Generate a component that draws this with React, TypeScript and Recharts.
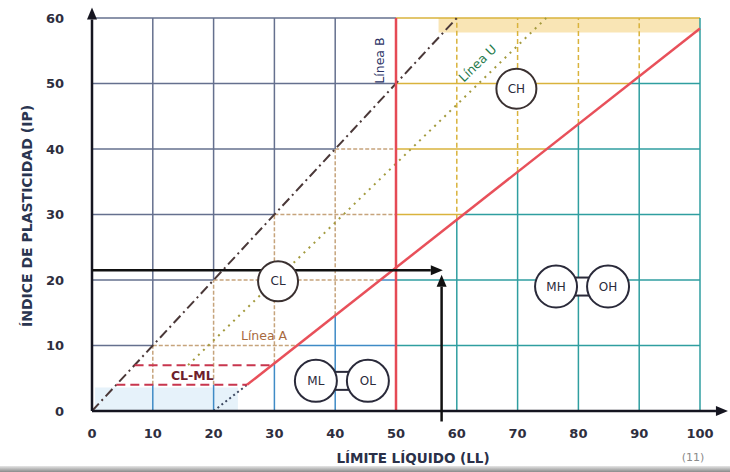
import React from "react";
import {
  ComposedChart,
  XAxis,
  YAxis,
  Line,
  ReferenceLine,
  ReferenceDot,
  ReferenceArea,
} from "recharts";

const LL_TICKS = [0, 10, 20, 30, 40, 50, 60, 70, 80, 90, 100];
const IP_TICKS = [0, 10, 20, 30, 40, 50, 60];
const GRID_LL = [10, 20, 30, 40, 60, 70, 80, 90, 100];
const GRID_IP = [10, 20, 30, 40, 50, 60];

// lineas de la carta (LL, IP)
const lineA = [
  { ll: 25.5, ip: 4 },
  { ll: 100, ip: 58.4 },
];
const lineAFoot = [
  { ll: 20, ip: 0 },
  { ll: 25.5, ip: 4 },
];
const lineU = [
  { ll: 15.8, ip: 7 },
  { ll: 74.7, ip: 60 },
];
const lineB = [
  { ll: 50, ip: 0 },
  { ll: 50, ip: 60 },
];
const lineDiag = [
  { ll: 0, ip: 0 },
  { ll: 60, ip: 60 },
];
const clmlUpper = [
  { ll: 7, ip: 7 },
  { ll: 29.6, ip: 7 },
];
const clmlLower = [
  { ll: 4, ip: 4 },
  { ll: 25.5, ip: 4 },
];

// lectura del ejemplo
const readIP = { from: { ll: 0, ip: 21.5 }, to: { ll: 57.7, ip: 21.5 } };
const readLL = { from: { ll: 57.5, ip: -1.6 }, to: { ll: 57.5, ip: 20.8 } };

const soilCircles = [
  { name: "CL", ll: 30.6, ip: 19.8 },
  { name: "CH", ll: 69.8, ip: 49.2 },
];
const soilPairs = [
  { left: "ML", right: "OL", ll: 41.1, ip: 4.6 },
  { left: "MH", right: "OH", ll: 80.6, ip: 19 },
];
const lineNotes = [
  { text: "Línea B", ll: 47.5, ip: 53.5, angle: -90, color: "#2c3466", bold: false },
  { text: "Línea U", ll: 63.5, ip: 53, angle: -44, color: "#1f7a4a", bold: false },
  { text: "Línea A", ll: 28.3, ip: 11.4, angle: 0, color: "#a86a3e", bold: false },
  { text: "CL-ML", ll: 16.5, ip: 5.2, angle: 0, color: "#6e1f2c", bold: true },
];

const SLATE = "#65708e";
const BROWN = "#c6a47c";
const BLUE = "#3f8bc6";
const GOLD = "#d9b33c";
const TEAL = "#2f9ea0";
const FONT = "DejaVu Sans";

const aLine = (ll: number) => 0.73 * (ll - 20);
const aLineInv = (ip: number) => ip / 0.73 + 20;

type Seg = { pts: { ll: number; ip: number }[]; color: string; dash?: string };

const gridSegments: Seg[] = [];
GRID_IP.forEach((v) => {
  const xa = aLineInv(v);
  gridSegments.push({ pts: [{ ll: 0, ip: v }, { ll: Math.min(v, 50), ip: v }], color: SLATE });
  if (v < 50) {
    gridSegments.push({ pts: [{ ll: v, ip: v }, { ll: Math.min(xa, 50), ip: v }], color: BROWN, dash: "4 2" });
    if (xa < 50) gridSegments.push({ pts: [{ ll: xa, ip: v }, { ll: 50, ip: v }], color: BLUE });
  }
  if (xa > 50) gridSegments.push({ pts: [{ ll: 50, ip: v }, { ll: Math.min(xa, 100), ip: v }], color: GOLD });
  if (xa < 100) gridSegments.push({ pts: [{ ll: Math.max(xa, 50), ip: v }, { ll: 100, ip: v }], color: TEAL });
});
GRID_LL.forEach((u) => {
  const a = Math.max(aLine(u), 0);
  if (u < 50) {
    const low = Math.max(a, 4);
    gridSegments.push({ pts: [{ ll: u, ip: u }, { ll: u, ip: 60 }], color: SLATE });
    gridSegments.push({ pts: [{ ll: u, ip: low }, { ll: u, ip: u }], color: BROWN, dash: "4 2" });
    gridSegments.push({ pts: [{ ll: u, ip: 0 }, { ll: u, ip: low }], color: BLUE });
  } else if (u < 100) {
    gridSegments.push({ pts: [{ ll: u, ip: 0 }, { ll: u, ip: a }], color: TEAL });
    gridSegments.push({ pts: [{ ll: u, ip: a }, { ll: u, ip: 60 }], color: GOLD, dash: "5 3" });
  } else {
    gridSegments.push({ pts: [{ ll: u, ip: 0 }, { ll: u, ip: 60 }], color: TEAL });
  }
});

const arrowShape = (color: string, width: number) => (props: any) => {
  const { x1, y1, x2, y2 } = props;
  const ang = Math.atan2(y2 - y1, x2 - x1);
  const len = 12;
  const half = 5;
  const bx = x2 - len * Math.cos(ang);
  const by = y2 - len * Math.sin(ang);
  const px = -Math.sin(ang) * half;
  const py = Math.cos(ang) * half;
  return (
    <g>
      <line x1={x1} y1={y1} x2={bx} y2={by} stroke={color} strokeWidth={width} />
      <polygon
        points={`${x2},${y2} ${bx + px},${by + py} ${bx - px},${by - py}`}
        fill={color}
      />
    </g>
  );
};

const circleShape = (name: string) => (props: any) => {
  const { cx, cy } = props;
  return (
    <g>
      <circle cx={cx} cy={cy} r={20} fill="#fff" stroke="#3a3030" strokeWidth={2} />
      <text x={cx} y={cy + 4} textAnchor="middle" fontFamily={FONT} fontSize={12} fill="#2a2a3a">
        {name}
      </text>
    </g>
  );
};

const pairShape = (left: string, right: string) => (props: any) => {
  const { cx, cy } = props;
  return (
    <g>
      <rect x={cx - 8} y={cy - 9} width={16} height={18} fill="#fff" stroke="#2a2a3a" strokeWidth={2} />
      {[
        [cx - 26, left],
        [cx + 26, right],
      ].map(([x, t]) => (
        <g key={t as string}>
          <circle cx={x as number} cy={cy} r={21} fill="#fff" stroke="#2a2a3a" strokeWidth={2} />
          <text x={x as number} y={cy + 4} textAnchor="middle" fontFamily={FONT} fontSize={12} fill="#2a2a3a">
            {t}
          </text>
        </g>
      ))}
    </g>
  );
};

const noteShape = (text: string, angle: number, color: string, bold: boolean) => (props: any) => {
  const { cx, cy } = props;
  return (
    <text
      x={cx}
      y={cy}
      textAnchor="middle"
      dominantBaseline="middle"
      transform={`rotate(${angle} ${cx} ${cy})`}
      fontFamily={FONT}
      fontSize={12.5}
      fontWeight={bold ? 700 : 400}
      fill={color}
    >
      {text}
    </text>
  );
};

const tickStyle = { fontFamily: FONT, fontSize: 13, fontWeight: 700, fill: "#2e2e3e" };

export default function App() {
  return (
    <div style={{ width: 730, height: 472, background: "#fff", position: "relative" }}>
      <style>{`body{margin:0}`}</style>
      <ComposedChart width={730} height={472} margin={{ top: 18, right: 30, bottom: 21, left: 0 }}>
        <XAxis
          dataKey="ll"
          type="number"
          domain={[0, 100]}
          ticks={LL_TICKS}
          axisLine={false}
          tickLine={false}
          tickMargin={12}
          height={40}
          tick={tickStyle}
          label={{
            content: () => (
              <g>
                <text x={413} y={463} textAnchor="middle" fontFamily={FONT} fontSize={13.5} fontWeight={700} fill="#2a3048">
                  LÍMITE LÍQUIDO (LL)
                </text>
                <text x={693} y={461} textAnchor="middle" fontFamily={FONT} fontSize={11} fill="#8a8a8a">
                  (11)
                </text>
              </g>
            ),
          }}
        />
        <YAxis
          dataKey="ip"
          type="number"
          domain={[0, 60]}
          ticks={IP_TICKS}
          axisLine={false}
          tickLine={false}
          tickMargin={22}
          width={92}
          tick={tickStyle}
          label={{
            content: () => (
              <text
                x={32}
                y={216}
                transform="rotate(-90 32 216)"
                textAnchor="middle"
                fontFamily={FONT}
                fontSize={14}
                fontWeight={700}
                fill="#2a3550"
              >
                ÍNDICE DE PLASTICIDAD (IP)
              </text>
            ),
          }}
        />

        <ReferenceArea x1={0.5} x2={24} y1={0} y2={3.6} fill="#8cc4e8" fillOpacity={0.22} stroke="none" />
        <ReferenceArea x1={57} x2={100} y1={57.8} y2={60} fill="#f2c55c" fillOpacity={0.45} stroke="none" />

        {gridSegments.map((s, i) => (
          <Line
            key={`g-${i}`}
            data={s.pts}
            dataKey="ip"
            stroke={s.color}
            strokeWidth={1.5}
            strokeDasharray={s.dash}
            dot={false}
            isAnimationActive={false}
          />
        ))}

        <Line data={lineDiag} dataKey="ip" stroke="#4a3838" strokeWidth={2} strokeDasharray="10 4 2 4" dot={false} isAnimationActive={false} />
        <Line data={lineU} dataKey="ip" stroke="#a39a3e" strokeWidth={2} strokeDasharray="2 5" dot={false} isAnimationActive={false} />
        <Line data={lineAFoot} dataKey="ip" stroke="#3c4860" strokeWidth={2} strokeDasharray="2 3" dot={false} isAnimationActive={false} />
        <Line data={clmlUpper} dataKey="ip" stroke="#c8364e" strokeWidth={2} strokeDasharray="9 5" dot={false} isAnimationActive={false} />
        <Line data={clmlLower} dataKey="ip" stroke="#c8364e" strokeWidth={2} strokeDasharray="9 5" dot={false} isAnimationActive={false} />
        <Line data={lineB} dataKey="ip" stroke="#e54a55" strokeWidth={2.5} dot={false} isAnimationActive={false} />
        <Line data={lineA} dataKey="ip" stroke="#e8505a" strokeWidth={2.5} dot={false} isAnimationActive={false} />

        <ReferenceLine segment={[{ x: 0, y: 0 }, { x: 0, y: 61.6 }]} ifOverflow="visible" shape={arrowShape("#151520", 2.5)} />
        <ReferenceLine segment={[{ x: 0, y: 0 }, { x: 104.6, y: 0 }]} ifOverflow="visible" shape={arrowShape("#151520", 2.5)} />
        <ReferenceLine
          segment={[{ x: readIP.from.ll, y: readIP.from.ip }, { x: readIP.to.ll, y: readIP.to.ip }]}
          ifOverflow="visible"
          shape={arrowShape("#111", 2.5)}
        />
        <ReferenceLine
          segment={[{ x: readLL.from.ll, y: readLL.from.ip }, { x: readLL.to.ll, y: readLL.to.ip }]}
          ifOverflow="visible"
          shape={arrowShape("#111", 2.5)}
        />

        {soilCircles.map((c) => (
          <ReferenceDot key={c.name} x={c.ll} y={c.ip} r={20} shape={circleShape(c.name)} />
        ))}
        {soilPairs.map((p) => (
          <ReferenceDot key={p.left} x={p.ll} y={p.ip} r={20} shape={pairShape(p.left, p.right)} />
        ))}
        {lineNotes.map((n) => (
          <ReferenceDot key={n.text} x={n.ll} y={n.ip} r={1} shape={noteShape(n.text, n.angle, n.color, n.bold)} />
        ))}
      </ComposedChart>
      <div
        style={{
          position: "absolute",
          left: 0,
          right: 0,
          bottom: 0,
          height: 6,
          background: "linear-gradient(#e6e6e6, #8a8a8a)",
        }}
      />
    </div>
  );
}
